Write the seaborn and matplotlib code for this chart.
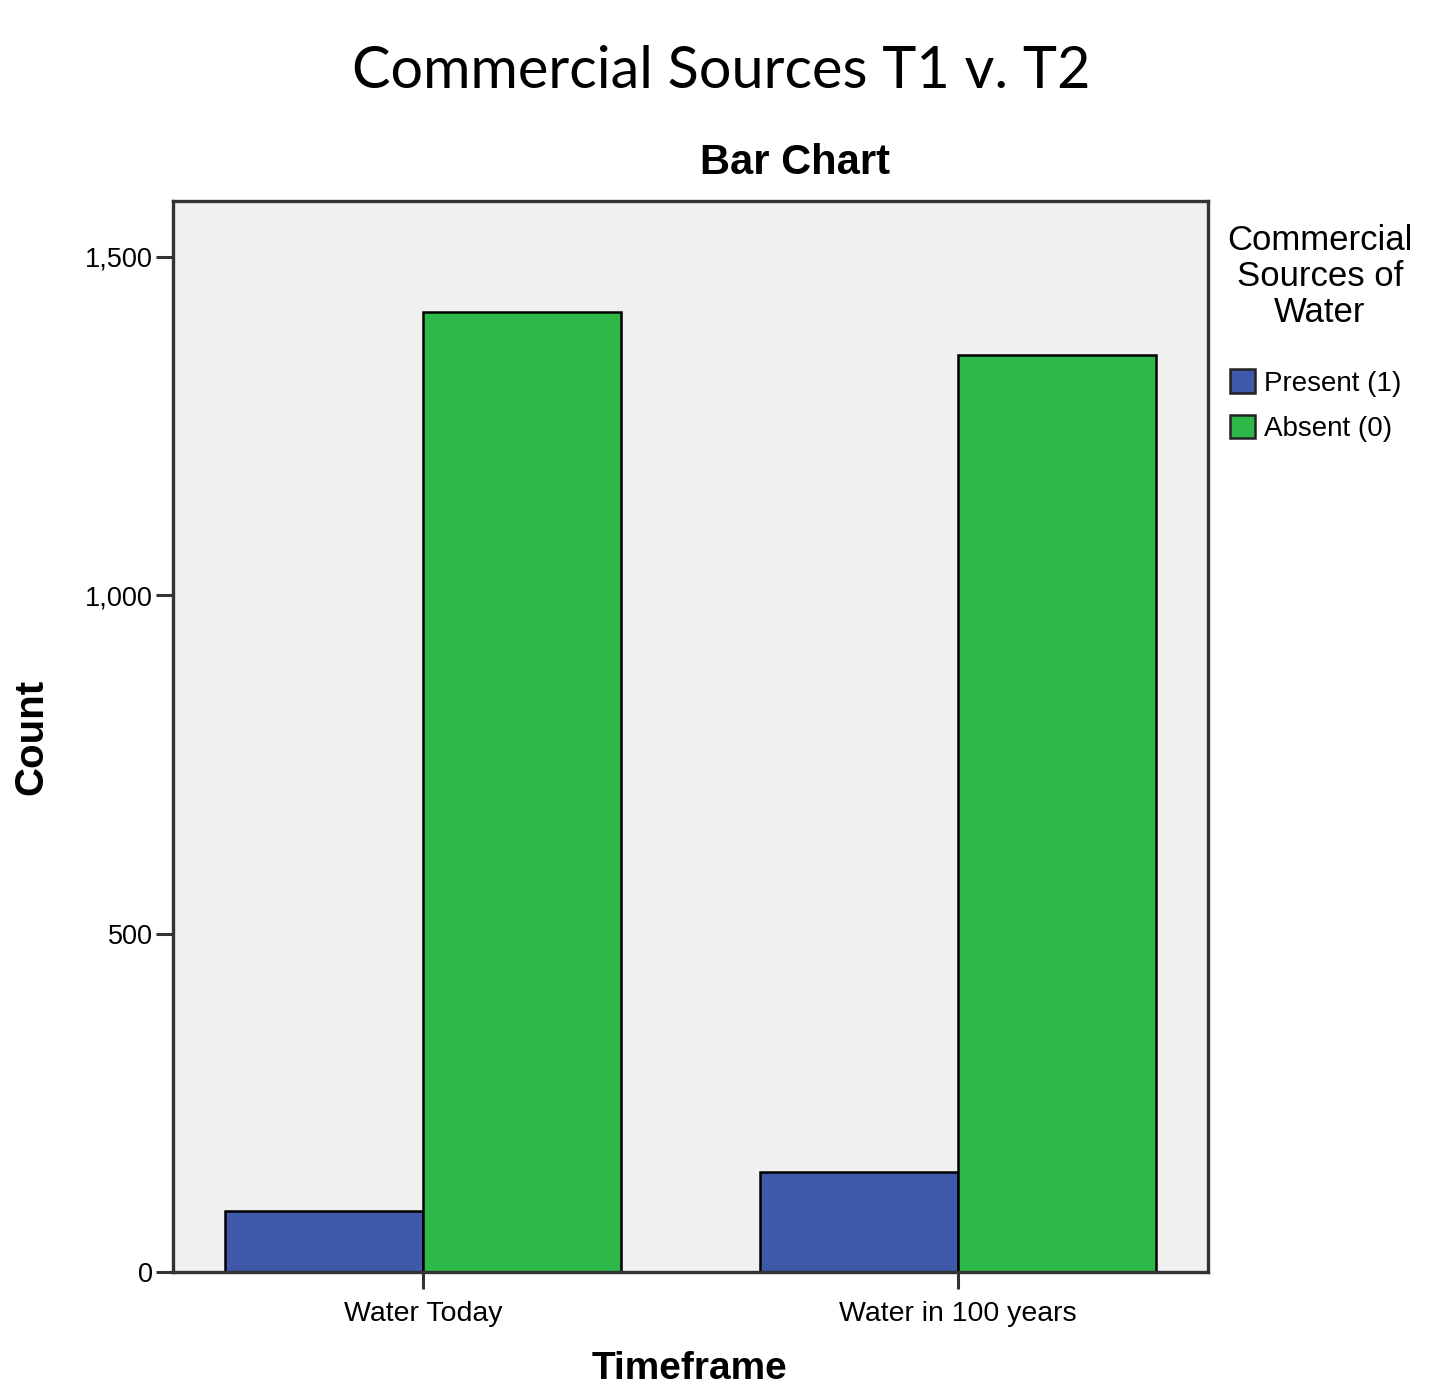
import matplotlib
matplotlib.use("Agg")
import matplotlib.pyplot as plt
import seaborn as sns
import pandas as pd
from matplotlib.patches import Patch

timeframes = ["Water Today", "Water in 100 years"]
present_counts = [90, 148]
absent_counts = [1418, 1354]
series_names = ["Present (1)", "Absent (0)"]
y_ticks = [0, 500, 1000, 1500]
y_tick_labels = ["0", "500", "1,000", "1,500"]

df = pd.DataFrame({
    "Timeframe": timeframes * 2,
    "Series": [series_names[0]] * 2 + [series_names[1]] * 2,
    "Count": present_counts + absent_counts,
})

sns.set_style("white")
plt.rcParams['font.family'] = ['Liberation Sans', 'DejaVu Sans']
plt.rcParams['text.color'] = 'black'
plt.rcParams['xtick.color'] = 'black'
plt.rcParams['ytick.color'] = 'black'

colors = ["#3F58A9", "#2FB84A"]

fig = plt.figure(figsize=(14.51, 13.89), dpi=100)
ax = fig.add_axes([173/1451, 1 - 1272/1389, (1208-173)/1451, (1272-201)/1389])
ax.set_facecolor("#F0F0F0")

sns.barplot(data=df, x="Timeframe", y="Count", hue="Series", hue_order=series_names,
            order=timeframes, palette=colors, saturation=1, width=0.74,
            edgecolor="black", linewidth=1.8, ax=ax, legend=False)

ax.set_xlim(-0.467, 1.467)
ax.set_ylim(0, 1582)
ax.set_yticks(y_ticks)
ax.set_yticklabels(y_tick_labels, fontsize=19.5)
ax.set_xticks(range(len(timeframes)))
ax.set_xticklabels(timeframes, fontsize=20.5)
ax.tick_params(axis='both', which='major', direction='out', length=12.5, width=2.2,
               color="#333333", bottom=True, left=True)
ax.tick_params(axis='y', pad=2)
ax.tick_params(axis='x', pad=8.5)
ax.set_xlabel("")
ax.set_ylabel("")
for s in ax.spines.values():
    s.set_color("#333333")
    s.set_linewidth(2.4)
    s.set_visible(True)

# legend title
for i, line in enumerate(["Commercial", "Sources of", "Water"]):
    fig.text(1320/1451, 1 - (241 + 36 * i)/1389, line, ha="center", va="center",
             fontsize=25)

handles = [Patch(facecolor=c, edgecolor="#222222", linewidth=1.8) for c in colors]
leg = fig.legend(handles, series_names, loc="upper left",
                 bbox_to_anchor=(1211/1451, 1 - 350/1389),
                 frameon=False, fontsize=20,
                 handlelength=0.9, handleheight=0.9, handletextpad=0.3,
                 labelspacing=0.65, borderpad=0.2)

fig.text(721/1451, 1 - 72/1389, "Commercial Sources T1 v. T2", ha="center", va="center",
         fontsize=41.5, family=["Lato", "DejaVu Sans"])
fig.text(795/1451, 1 - 163/1389, "Bar Chart", ha="center", va="center",
         fontsize=30, fontweight="bold")
fig.text(31/1451, 1 - 737/1389, "Count", ha="center", va="center", rotation=90,
         fontsize=29, fontweight="bold")
fig.text(690/1451, 1 - 1387/1389, "Timeframe", ha="center", va="bottom",
         fontsize=28, fontweight="bold")

fig.savefig("out.png", dpi=100)
